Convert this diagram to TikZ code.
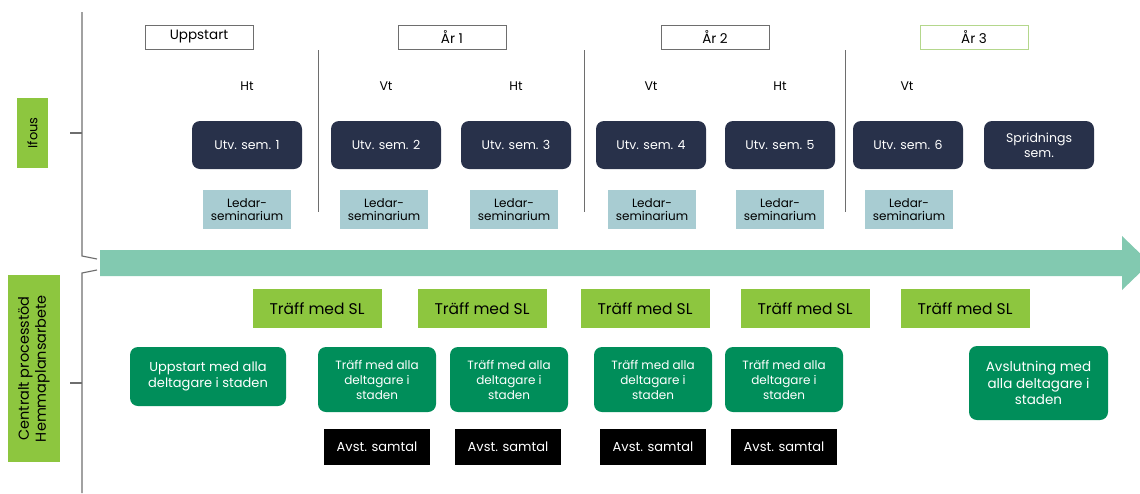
\documentclass[tikz,border=0pt]{standalone}
\usepackage{fontspec}
\setmainfont{Poppins}
\definecolor{utvblue}{RGB}{40,49,74}
\definecolor{ledarblue}{RGB}{168,204,210}
\definecolor{flowgreen}{RGB}{130,201,176}
\definecolor{limegreen}{RGB}{141,198,63}
\definecolor{allagreen}{RGB}{0,142,90}
\definecolor{linegray}{RGB}{110,110,110}
\definecolor{ar3green}{RGB}{180,215,140}

\begin{document}
\begin{tikzpicture}[x=1pt, y=-1pt,
    header/.style={draw=#1, line width=1pt, fill=white, minimum width=108pt, minimum height=24pt,
      inner sep=0pt, font=\fontsize{13.5}{15}\selectfont},
    term/.style={font=\fontsize{12.5}{14}\selectfont},
    utv/.style={fill=utvblue, text=white, rounded corners=8pt, minimum width=110pt, minimum height=48pt,
      inner sep=0pt, align=center, font=\fontsize{12.5}{15}\selectfont},
    ledar/.style={fill=ledarblue, minimum width=88pt, minimum height=39pt, inner sep=0pt,
      align=center, font=\fontsize{12}{13.5}\selectfont},
    sl/.style={fill=limegreen, minimum width=129pt, minimum height=39pt, inner sep=0pt,
      font=\fontsize{15.5}{17}\selectfont},
    alla/.style={fill=allagreen, text=white, rounded corners=8pt, inner sep=0pt, align=center,
      font=\fontsize{12}{15}\selectfont},
    avst/.style={fill=black, text=white, minimum width=106pt, minimum height=36pt, inner sep=0pt,
      font=\fontsize{13}{15}\selectfont},
    side/.style={fill=limegreen, rotate=90, inner sep=0pt, align=center, font=\fontsize{14.5}{17}\selectfont},
    bracket/.style={draw=linegray, line width=1.1pt},
    sep/.style={draw=linegray, line width=1pt}]
  \useasboundingbox (0,0) rectangle (1140,493);
  \clip (0,0) rectangle (1140,493);

  % years
  \foreach \name/\x/\txt/\col in {start/199/Uppstart/linegray, ar1/452/År 1/linegray,
      ar2/715/År 2/linegray, ar3/974/År 3/ar3green} {
    \node[header=\col] (\name) at (\x,37) {\txt};
  }
  \foreach \x in {318, 584, 845} {
    \draw[sep] (\x,50) -- (\x,212);
  }

  % terms
  \foreach \i/\x/\t in {1/247/Ht, 2/386/Vt, 3/516/Ht, 4/651/Vt, 5/780/Ht, 6/907/Vt} {
    \node[term] (term\i) at (\x,86) {\t};
  }
  \foreach \i/\x in {1/247, 2/386, 3/516, 4/651, 5/780, 6/908} {
    \node[utv] (utv\i) at (\x,145) {Utv. sem. \i};
  }
  \node[utv] (utv7) at (1039,145) {Spridnings\\sem.};
  \foreach \i/\x in {1/247, 2/384, 3/514, 4/652, 5/780, 6/909} {
    \node[ledar] (led\i) at (\x,209.5) {Ledar-\\seminarium};
  }

  % time line
  \fill[flowgreen] (100,250) -- (1122,250) -- (1122,236) -- (1150,263)
    -- (1122,290) -- (1122,276) -- (100,276) -- cycle;

  % process support
  \foreach \i/\x in {1/317, 2/482, 3/645, 4/805, 5/965} {
    \node[sl] (sl\i) at (\x,308.5) {Träff med SL};
  }
  \node[alla, minimum width=156pt, minimum height=59pt, font=\fontsize{13}{16}\selectfont]
    (alla0) at (208,376.5) {Uppstart med alla\\deltagare i staden};
  \foreach \i/\x in {1/377, 2/509, 3/653, 4/784} {
    \node[alla, minimum width=118pt, minimum height=65pt] (alla\i) at (\x,379.5)
      {Träff med alla\\deltagare i\\staden};
  }
  \node[alla, minimum width=139pt, minimum height=74pt, font=\fontsize{13.5}{16.5}\selectfont]
    (alla5) at (1038.5,383) {Avslutning med\\alla deltagare i\\staden};
  \foreach \i/\x in {1/377, 2/508, 3/653, 4/784} {
    \node[avst] (avst\i) at (\x,447) {Avst. samtal};
  }

  % left side
  \node[side, minimum width=70pt, minimum height=31pt, font=\fontsize{13}{15}\selectfont]
    (ifous) at (32.5,133) {Ifous};
  \node[side, minimum width=187pt, minimum height=52pt] (central) at (34,368.5)
    {Centralt processtöd\\Hemmaplansarbete};
  \draw[bracket] (82,12) -- (82,256) -- (97,259);
  \draw[bracket] (97,270) -- (82,273) -- (82,493);
  \draw[bracket] (70,133) -- (82,133);
  \draw[bracket] (70,383) -- (82,383);
\end{tikzpicture}
\end{document}
